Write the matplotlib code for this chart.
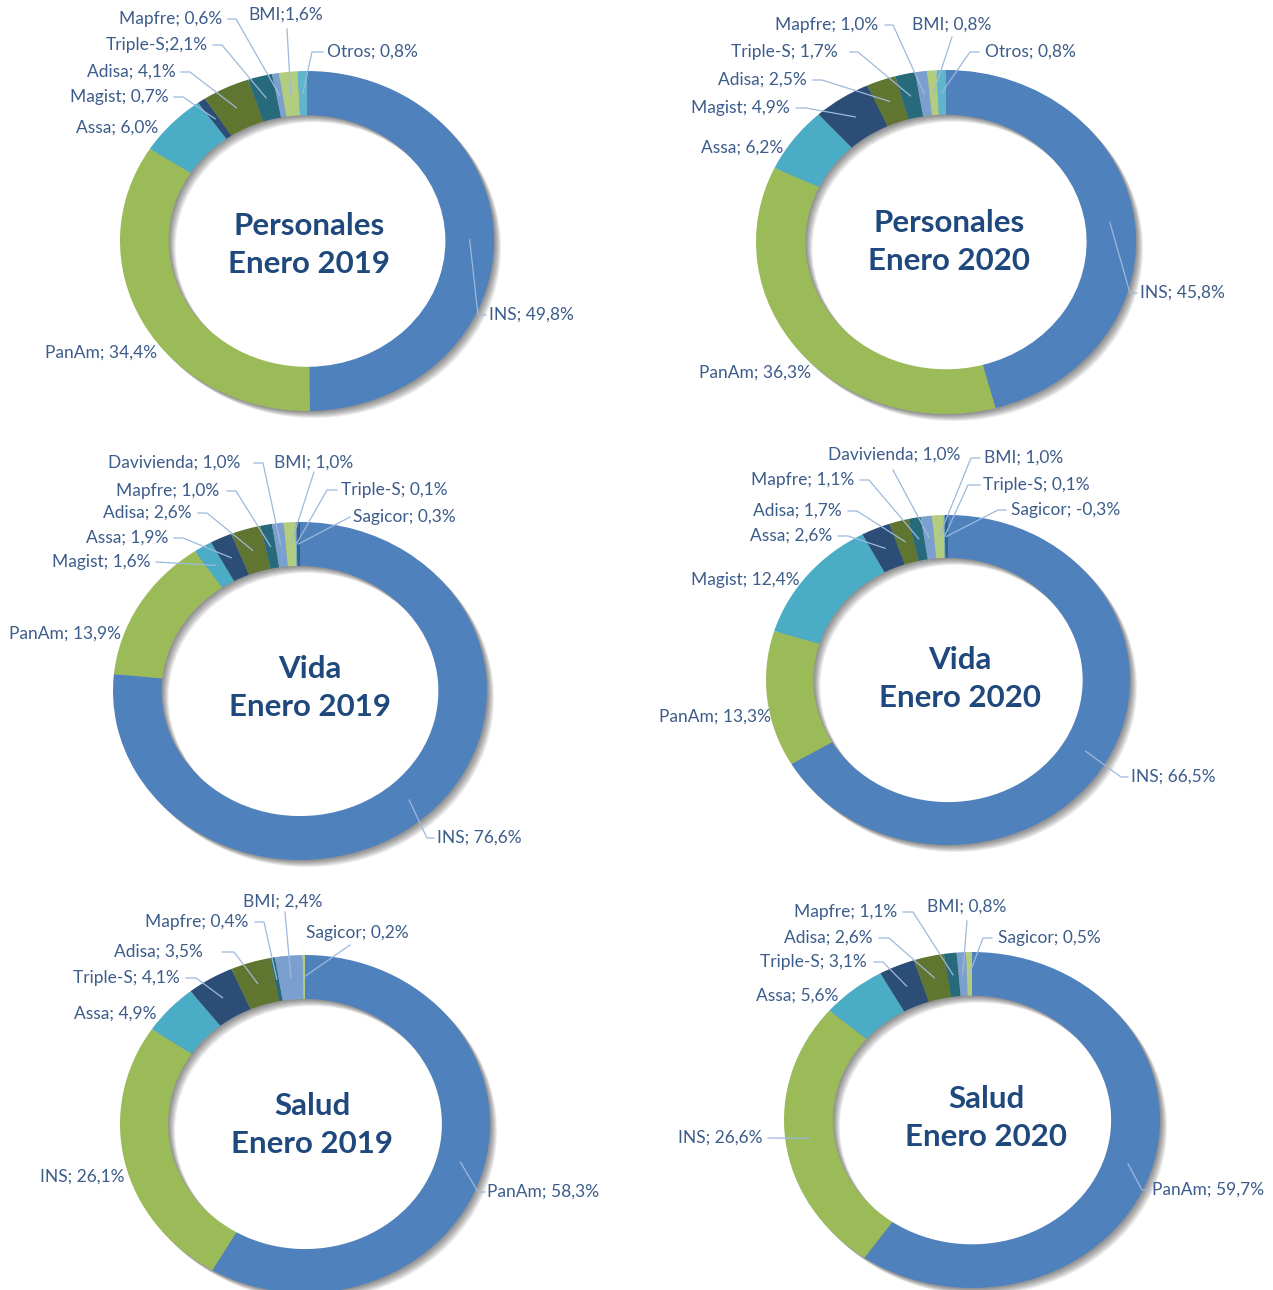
import numpy as np
import matplotlib.pyplot as plt
import matplotlib.transforms as mtransforms
from matplotlib.patches import Wedge
from matplotlib.lines import Line2D

plt.rcParams['font.family'] = ['Lato', 'DejaVu Sans']

# Tamaño de la imagen en pixeles
W, H = 1273, 1290

# Colores de las porciones (mismo orden que en Excel)
colores = ['#4F81BD', '#9BBB59', '#4BACC6', '#2C4D75', '#5F7530',
           '#276A7C', '#7BA0CF', '#B2CC80', '#5FB6CC', '#3A5F8B']
color_texto = '#3C5C8A'
color_titulo = '#1F497D'
color_guia = '#9DB9DC'

# ---------------- Datos ----------------
pers19_nombres = ['INS', 'PanAm', 'Assa', 'Magist', 'Adisa', 'Triple-S', 'Mapfre', 'BMI', 'Otros']
pers19_valores = [49.8, 34.4, 6.0, 0.7, 4.1, 2.1, 0.6, 1.6, 0.8]

pers20_nombres = ['INS', 'PanAm', 'Assa', 'Magist', 'Adisa', 'Triple-S', 'Mapfre', 'BMI', 'Otros']
pers20_valores = [45.8, 36.3, 6.2, 4.9, 2.5, 1.7, 1.0, 0.8, 0.8]

vida19_nombres = ['INS', 'PanAm', 'Magist', 'Assa', 'Adisa', 'Mapfre', 'Davivienda', 'BMI', 'Triple-S', 'Sagicor']
vida19_valores = [76.6, 13.9, 1.6, 1.9, 2.6, 1.0, 1.0, 1.0, 0.1, 0.3]

vida20_nombres = ['INS', 'PanAm', 'Magist', 'Assa', 'Adisa', 'Mapfre', 'Davivienda', 'BMI', 'Triple-S', 'Sagicor']
vida20_valores = [66.5, 13.3, 12.4, 2.6, 1.7, 1.1, 1.0, 1.0, 0.1, -0.3]

salud19_nombres = ['PanAm', 'INS', 'Assa', 'Triple-S', 'Adisa', 'Mapfre', 'BMI', 'Sagicor']
salud19_valores = [58.3, 26.1, 4.9, 4.1, 3.5, 0.4, 2.4, 0.2]

salud20_nombres = ['PanAm', 'INS', 'Assa', 'Triple-S', 'Adisa', 'Mapfre', 'BMI', 'Sagicor']
salud20_valores = [59.7, 26.6, 5.6, 3.1, 2.6, 1.1, 0.8, 0.5]

fig = plt.figure(figsize=(W / 100, H / 100), dpi=100)


def etiqueta(nombre, valor, junto):
    sep = ';' if junto else '; '
    return f"{nombre}{sep}{valor:.1f}".replace('.', ',') + '%'


def dona(cx, cy, rx, ry, nombres, valores, pos, titulo, tpos, juntos=()):
    # ejes del tamaño exacto de la dona (en pixeles de la imagen)
    ax = fig.add_axes([(cx - rx) / W, (H - cy - ry) / H, 2 * rx / W, 2 * ry / H])
    tamanos = np.abs(valores)  # Excel dibuja los negativos como positivos
    wedges, _ = ax.pie(tamanos, colors=colores[:len(valores)], startangle=90,
                       counterclock=False, radius=1,
                       wedgeprops=dict(width=0.26, linewidth=0))
    ax.set_aspect('auto')
    ax.set_xlim(-1, 1)
    ax.set_ylim(-1, 1)
    ax.axis('off')
    for w in wedges:
        w.set_clip_on(False)
        w.set_zorder(3)

    # sombra difusa hacia abajo a la derecha
    for off in [1, 2, 3, 4, 5, 6, 7]:
        tr = mtransforms.offset_copy(ax.transData, fig=fig, x=off, y=-off, units='dots')
        ax.add_patch(Wedge((0, 0), 1, 0, 360, width=0.26, facecolor='black',
                           alpha=0.075, linewidth=0, transform=tr, zorder=1,
                           clip_on=False))

    # etiquetas con lineas guia
    for i, w in enumerate(wedges):
        tx, ty, ha, pts = pos[i]
        fig.text(tx / W, 1 - ty / H, etiqueta(nombres[i], valores[i], nombres[i] in juntos),
                 ha=ha, va='center', fontsize=12.5, color=color_texto)
        if pts:
            th = np.deg2rad((w.theta1 + w.theta2) / 2)
            ax_x, ax_y = ax.transData.transform((0.87 * np.cos(th), 0.87 * np.sin(th)))
            xs = [p[0] for p in pts] + [ax_x]
            ys = [H - p[1] for p in pts] + [ax_y]
            fig.add_artist(Line2D(xs, ys, color=color_guia, lw=0.9,
                                  transform=mtransforms.IdentityTransform(), zorder=5))

    fig.text(tpos[0] / W, 1 - tpos[1] / H, titulo, ha='center', va='center',
             fontsize=22.5, fontweight='bold', color=color_titulo, linespacing=1.42)


# Personales Enero 2019
dona(307, 241, 187, 170, pers19_nombres, pers19_valores,
     [(489, 315, 'left', [(486, 315), (478, 315)]),
      (157, 353, 'right', []),
      (158, 128, 'right', []),
      (169, 97, 'right', [(174, 97), (183, 97)]),
      (176, 72, 'right', [(181, 72), (190, 72)]),
      (208, 45, 'right', [(213, 45), (222, 45)]),
      (222, 19, 'right', [(228, 19), (236, 19)]),
      (248, 15, 'left', [(287, 29)]),
      (327, 52, 'left', [(323, 52), (312, 52)])],
     'Personales\nEnero 2019', (309, 245), juntos=('Triple-S', 'BMI'))

# Personales Enero 2020
dona(946, 242, 190, 172, pers20_nombres, pers20_valores,
     [(1140, 293, 'left', [(1137, 293), (1130, 293)]),
      (811, 373, 'right', []),
      (783, 148, 'right', []),
      (790, 108, 'right', [(796, 108), (806, 108)]),
      (807, 80, 'right', [(813, 80), (822, 80)]),
      (838, 52, 'right', [(850, 52), (858, 52)]),
      (878, 25, 'right', [(885, 25), (893, 25)]),
      (912, 25, 'left', [(952, 37)]),
      (985, 52, 'left', [(979, 52), (970, 52)])],
     'Personales\nEnero 2020', (949, 242))

# Vida Enero 2019
dona(300, 691, 187, 169, vida19_nombres, vida19_valores,
     [(437, 838, 'left', [(434, 838), (427, 838)]),
      (121, 634, 'right', []),
      (150, 562, 'right', [(156, 562)]),
      (168, 538, 'right', [(174, 538), (183, 538)]),
      (192, 513, 'right', [(198, 513), (207, 513)]),
      (219, 491, 'right', [(227, 491), (236, 491)]),
      (240, 463, 'right', [(254, 463), (263, 463)]),
      (274, 463, 'left', [(314, 472)]),
      (341, 490, 'left', [(337, 490), (327, 490)]),
      (353, 517, 'left', [(350, 517)])],
     'Vida\nEnero 2019', (310, 688))

# Vida Enero 2020
dona(948, 680, 182, 165, vida20_nombres, vida20_valores,
     [(1131, 777, 'left', [(1128, 777), (1121, 777)]),
      (771, 717, 'right', []),
      (800, 580, 'right', []),
      (832, 536, 'right', [(838, 536), (848, 536)]),
      (842, 511, 'right', [(848, 511), (857, 511)]),
      (854, 480, 'right', [(860, 480), (869, 480)]),
      (828, 455, 'left', [(893, 470)]),
      (984, 458, 'left', [(980, 458), (971, 458)]),
      (983, 485, 'left', [(980, 485), (968, 485)]),
      (1011, 510, 'left', [(1006, 510), (998, 510)])],
     'Vida\nEnero 2020', (960, 679))

# Salud Enero 2019
dona(305, 1124, 185, 169, salud19_nombres, salud19_valores,
     [(487, 1192, 'left', [(485, 1192), (478, 1192)]),
      (124, 1177, 'right', []),
      (157, 1014, 'right', []),
      (180, 978, 'right', [(186, 978), (196, 978)]),
      (203, 952, 'right', [(222, 952), (234, 952)]),
      (248, 922, 'right', [(255, 922), (264, 922)]),
      (243, 902, 'left', [(285, 912)]),
      (306, 933, 'left', [(350, 945)])],
     'Salud\nEnero 2019', (312, 1125))

# Salud Enero 2020
dona(972, 1120, 188, 168, salud20_nombres, salud20_valores,
     [(1152, 1190, 'left', [(1149, 1190), (1142, 1190)]),
      (763, 1138, 'right', [(768, 1138)]),
      (838, 996, 'right', []),
      (867, 962, 'right', [(874, 962), (883, 962)]),
      (873, 938, 'right', [(879, 938), (889, 938)]),
      (897, 912, 'right', [(903, 912), (913, 912)]),
      (927, 907, 'left', [(967, 921)]),
      (998, 938, 'left', [(992, 938), (983, 938)])],
     'Salud\nEnero 2020', (986, 1118))

plt.savefig('out.png', dpi=100)
